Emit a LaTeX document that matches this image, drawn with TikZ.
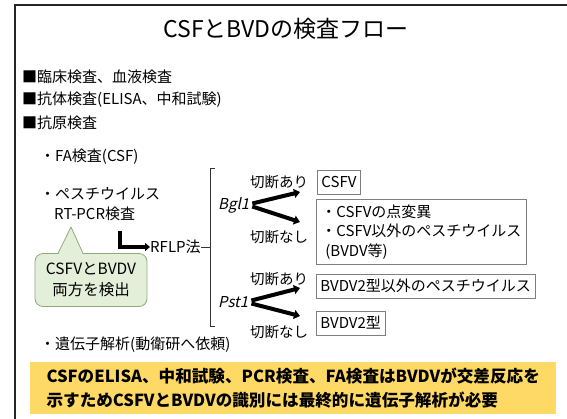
\documentclass[tikz,border=0pt]{standalone}
\usepackage{fontspec}
\setmainfont{Noto Sans CJK JP}
\newfontfamily\slfont[FakeSlant=0.22]{Noto Sans CJK JP}
\usetikzlibrary{arrows.meta}
\definecolor{calloutfill}{HTML}{E3EFD9}
\definecolor{calloutdraw}{HTML}{8EAA7C}
\definecolor{notefill}{HTML}{FFD966}
\definecolor{boxdraw}{HTML}{7F7F7F}
\begin{document}
\begin{tikzpicture}[x=1pt,y=-1pt,
  txt/.style={anchor=west, inner sep=0pt, font=\fontsize{15}{18}\selectfont},
  cut/.style={inner sep=0pt, font=\fontsize{14.5}{17}\selectfont},
  enz/.style={anchor=west, inner sep=0pt, font=\slfont\fontsize{15}{18}\selectfont},
  resbox/.style={draw=boxdraw, line width=0.8pt, anchor=west, inner xsep=4pt, inner ysep=0pt,
    minimum height=24pt, font=\fontsize{15}{18}\selectfont},
  fatarrow/.style={line width=4pt, -{Triangle[length=6pt,width=9pt]}},
  bracketline/.style={line width=0.7pt, black!80}
]
\useasboundingbox (0,0) rectangle (567,418);
% frame
\draw[line width=2pt, black!85] (15,420) -- (15,5) -- (569,5);
% title
\node[inner sep=0pt, font=\fontsize{23}{26}\selectfont] (title) at (286,29) {CSFとBVDの検査フロー};
% list
\node[txt] (l1) at (22,77) {■臨床検査、血液検査};
\node[txt] (l2) at (22,100) {■抗体検査(ELISA、中和試験)};
\node[txt] (l3) at (22,123) {■抗原検査};
\node[txt] (fa) at (40,157) {・FA検査(CSF)};
\node[txt] (pes) at (40,194) {・ペスチウイルス};
\node[txt] (pcr) at (54,214) {RT-PCR検査};
\node[txt] (gene) at (40,345) {・遺伝子解析(動衛研へ依頼)};
% callout
\node[draw=calloutdraw, fill=calloutfill, line width=0.8pt, rounded corners=8pt,
  minimum width=112pt, minimum height=53pt, align=center, inner sep=0pt,
  font=\fontsize{15.5}{21}\selectfont] (both) at (91,280) {CSFVとBVDV\\両方を検出};
\fill[calloutfill] (58,254.6) -- (71,227) -- (83,254.6) -- cycle;
\draw[calloutdraw, line width=0.8pt, line join=round] (58,253.4) -- (71,227) -- (83,253.4);
% RFLP
\node[txt] (rflp) at (150,247) {RFLP法};
\coordinate (e0) at (120,231);
\draw[line width=3.5pt, -{Triangle[length=5pt,width=8pt]}] (e0) |- (rflp.west);
\coordinate (br) at (210,247);
\draw[bracketline] (rflp.east) -- (br);
\draw[bracketline] (215,168) -- (210,168) -- (210,326) -- (215,326);
% enzymes
\node[enz] (bgl) at (218,205) {Bgl1};
\node[enz] (pst) at (218,302) {Pst1};
\coordinate (b1) at (300,192);
\coordinate (b2) at (300,222);
\coordinate (p1) at (300,288);
\coordinate (p2) at (300,316);
\draw[fatarrow] ([xshift=3pt,yshift=1.5pt]bgl.east) -- (b1);
\draw[fatarrow] ([xshift=3pt,yshift=-1.5pt]bgl.east) -- (b2);
\draw[fatarrow] ([xshift=3pt,yshift=1.5pt]pst.east) -- (p1);
\draw[fatarrow] ([xshift=3pt,yshift=-1.5pt]pst.east) -- (p2);
% cut labels
\node[cut] (c1) at (279,182) {切断あり};
\node[cut] (c2) at (279,237) {切断なし};
\node[cut] (c3) at (279,279) {切断あり};
\node[cut] (c4) at (279,332) {切断なし};
% result boxes
\node[resbox] (r1) at (317,182) {CSFV};
\node[draw=boxdraw, line width=0.8pt, anchor=north west, inner xsep=5pt, inner ysep=5pt,
  align=left, font=\fontsize{15}{19.5}\selectfont] (r2) at (316,199)
  {・CSFVの点変異\\・CSFV以外のペスチウイルス\\\hspace*{4pt}(BVDV等)};
\node[resbox] (r3) at (316,286) {BVDV2型以外のペスチウイルス};
\node[resbox] (r4) at (316,323) {BVDV2型};
% note
\node[fill=notefill, anchor=north west, inner xsep=5pt, inner ysep=3pt, minimum width=526pt,
  minimum height=52pt, align=left, font=\bfseries\fontsize{16.6}{24}\selectfont] (note) at (30,362)
  {CSFのELISA、中和試験、PCR検査、FA検査はBVDVが交差反応を\\示すためCSFVとBVDVの識別には最終的に遺伝子解析が必要};
\end{tikzpicture}
\end{document}
